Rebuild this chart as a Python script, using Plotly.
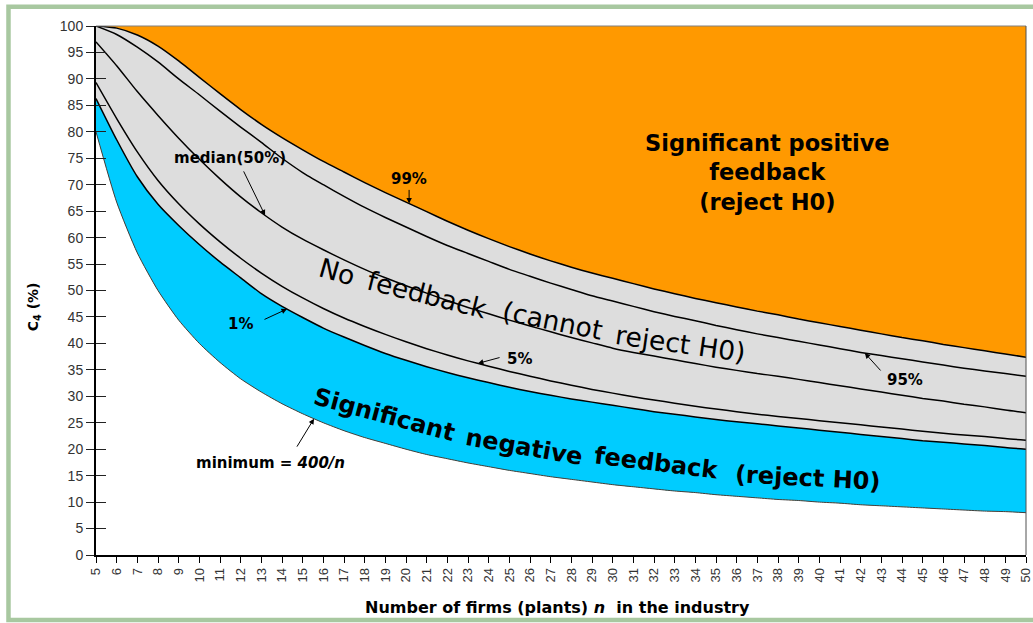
import numpy as np
import plotly.graph_objects as go

# ---------------- data ----------------
n = list(range(5, 51))

minimum = [80.0, 66.7, 57.1, 50.0, 44.4, 40.0, 36.4, 33.3, 30.8, 28.6,
           26.7, 25.0, 23.5, 22.2, 21.1, 20.0, 19.0, 18.2, 17.4, 16.7,
           16.0, 15.4, 14.8, 14.3, 13.8, 13.3, 12.9, 12.5, 12.1, 11.8,
           11.4, 11.1, 10.8, 10.5, 10.3, 10.0, 9.8, 9.5, 9.3, 9.1,
           8.9, 8.7, 8.5, 8.3, 8.2, 8.0]

p01 = [86.3, 78.5, 71.5, 66.3, 62.3, 58.7, 55.4, 52.4, 49.4, 47.0,
       44.9, 42.9, 41.2, 39.6, 38.1, 36.8, 35.6, 34.5, 33.5, 32.6,
       31.7, 30.9, 30.2, 29.5, 28.9, 28.3, 27.7, 27.1, 26.6, 26.1,
       25.6, 25.2, 24.8, 24.4, 24.0, 23.6, 23.2, 22.8, 22.4, 22.0,
       21.6, 21.3, 21.0, 20.7, 20.3, 20.0]

p05 = [89.3, 82.5, 76.2, 70.8, 66.4, 62.6, 59.2, 56.1, 53.3, 50.8,
       48.6, 46.6, 44.8, 43.2, 41.7, 40.3, 39.0, 37.8, 36.7, 35.7,
       34.7, 33.8, 32.9, 32.1, 31.3, 30.6, 29.9, 29.3, 28.7, 28.1,
       27.6, 27.1, 26.6, 26.2, 25.8, 25.4, 25.0, 24.6, 24.2, 23.8,
       23.4, 23.0, 22.7, 22.4, 22.0, 21.7]

p50 = [97.0, 92.5, 87.6, 83.1, 78.8, 74.8, 71.1, 67.7, 64.7, 62.0,
       59.7, 57.7, 55.8, 54.0, 52.4, 50.9, 49.5, 48.1, 46.8, 45.6,
       44.4, 43.3, 42.2, 41.1, 40.1, 39.1, 38.3, 37.6, 36.9, 36.2,
       35.5, 34.9, 34.3, 33.8, 33.2, 32.6, 32.0, 31.4, 30.8, 30.2,
       29.6, 29.1, 28.5, 28.0, 27.4, 26.9]

p95 = [100.0, 98.4, 96.0, 93.2, 90.0, 87.0, 83.9, 80.9, 78.0, 75.0,
       72.3, 70.0, 67.8, 65.7, 63.8, 62.0, 60.2, 58.5, 57.0, 55.5,
       54.0, 52.7, 51.4, 50.2, 49.0, 48.0, 47.0, 46.0, 45.1, 44.3,
       43.4, 42.6, 41.8, 41.1, 40.4, 39.7, 39.0, 38.3, 37.7, 37.1,
       36.5, 35.9, 35.3, 34.8, 34.3, 33.8]

p99 = [100.0, 99.6, 98.3, 96.2, 93.4, 90.3, 87.2, 84.2, 81.4, 78.9,
       76.6, 74.4, 72.4, 70.4, 68.5, 66.7, 64.9, 63.1, 61.4, 59.8,
       58.3, 56.9, 55.6, 54.4, 53.3, 52.3, 51.3, 50.3, 49.4, 48.5,
       47.7, 46.9, 46.1, 45.4, 44.6, 43.9, 43.2, 42.5, 41.8, 41.1,
       40.5, 39.8, 39.2, 38.6, 38.0, 37.4]

x_ticks = list(range(5, 51))
y_ticks = list(range(0, 101, 5))

# ---------------- styles ----------------
ORANGE = "#FF9900"
BLUE = "#00CCFF"
GRAY = "#DDDDDD"
SANS = "Liberation Sans, Arial, sans-serif"
WIDE = "DejaVu Sans, Verdana, sans-serif"
SPL = dict(shape="spline", smoothing=0.6)

fig = go.Figure()

# filled bands (plot background is the orange region)
fig.add_trace(go.Scatter(x=n, y=minimum, mode="lines", line=dict(width=0, **SPL),
                         fill="tozeroy", fillcolor="white", hoverinfo="skip"))
for series, color in [(p01, BLUE), (p05, GRAY), (p50, GRAY), (p95, GRAY), (p99, GRAY)]:
    fig.add_trace(go.Scatter(x=n, y=series, mode="lines", line=dict(width=0, **SPL),
                             fill="tonexty", fillcolor=color, hoverinfo="skip"))

# boundary lines on top
fig.add_trace(go.Scatter(x=n, y=minimum, mode="lines",
                         line=dict(color="#404040", width=1, **SPL), hoverinfo="skip"))
for series in [p01, p05, p50, p95, p99]:
    fig.add_trace(go.Scatter(x=n, y=series, mode="lines",
                             line=dict(color="black", width=1.5, **SPL), hoverinfo="skip"))

# invisible point so that the inside-tick axis is drawn
fig.add_trace(go.Scatter(x=[n[0]], y=[p99[0]], yaxis="y2", mode="markers",
                         marker=dict(opacity=0), hoverinfo="skip"))

annotations = []

# big region labels
annotations.append(dict(x=37.5, y=72.4, xref="x", yref="y", showarrow=False,
                        xanchor="center", yanchor="middle",
                        text="<b>Significant positive<br>feedback<br>(reject H0)</b>",
                        font=dict(family=WIDE, size=22.5, color="black"), align="center"))

no_fb = [("No", 16.66, 53.5, 16), ("feedback", 21.02, 49.3, 14),
         ("(cannot", 27.11, 44.4, 11.5), ("reject H0)", 33.26, 39.9, 8)]
for word, xx, yy, ang in no_fb:
    annotations.append(dict(x=xx, y=yy, xref="x", yref="y", showarrow=False, text=word,
                            xanchor="center", yanchor="middle",
                            textangle=ang, font=dict(family=WIDE, size=26.5, color="black")))

neg_fb = [("Significant", 18.98, 26.5, 15), ("negative", 25.71, 20.4, 10),
          ("feedback", 32.14, 17.4, 7), ("(reject H0)", 39.45, 14.6, 3)]
for word, xx, yy, ang in neg_fb:
    annotations.append(dict(x=xx, y=yy, xref="x", yref="y", showarrow=False, text="<b>" + word + "</b>",
                            xanchor="center", yanchor="middle",
                            textangle=ang, font=dict(family=WIDE, size=24, color="black")))

# small curve labels with arrows
labels = [
    # text, text x, text y, tail x, tail y, head x, series
    ("<b>99%</b>", 20.15, 71.0, 20.15, 69.3, 20.15, p99),
    ("<b>median(50%)</b>", 11.48, 75.0, 12.11, 72.8, 13.18, p50),
    ("<b>1%</b>", 11.97, 43.7, 13.08, 44.4, 14.24, p01),
    ("<b>5%</b>", 25.47, 37.0, 24.6, 37.4, 23.48, p05),
    ("<b>95%</b>", 44.14, 33.1, 43.03, 34.6, 42.2, p95),
    ("<b>minimum = <i>400/n</i></b>", 13.42, 17.4, 14.68, 20.2, 15.55, minimum),
]
for text, tx, ty, ax_, ay_, hx, series in labels:
    annotations.append(dict(x=tx, y=ty, xref="x", yref="y", showarrow=False, text=text,
                            xanchor="center", yanchor="middle",
                            font=dict(family=WIDE, size=15, color="black")))
    hy = float(np.interp(hx, n, series))
    annotations.append(dict(x=hx, y=hy, ax=ax_, ay=ay_, xref="x", yref="y", axref="x", ayref="y",
                            text="", showarrow=True, arrowhead=2, arrowsize=1.1, arrowwidth=1,
                            arrowcolor="black", standoff=0))

# axis titles
annotations.append(dict(x=-0.0667, y=0.47, xref="paper", yref="paper", showarrow=False,
                        xanchor="center", yanchor="middle",
                        text="<b>C<sub>4</sub> (%)</b>", textangle=-90,
                        font=dict(family=WIDE, size=14, color="black")))
annotations.append(dict(x=0.496, y=-0.0983, xref="paper", yref="paper", showarrow=False,
                        xanchor="center", yanchor="middle",
                        text="<b>Number of firms (plants) <i>n</i>  in the industry</b>",
                        font=dict(family=WIDE, size=16, color="black")))

shapes = [
    # thin grey frame on top and right of the plot area
    dict(type="line", xref="paper", yref="paper", x0=0, x1=1, y0=1, y1=1,
         line=dict(color="#808080", width=1), layer="above"),
    dict(type="line", xref="paper", yref="paper", x0=1, x1=1, y0=0, y1=1,
         line=dict(color="#505050", width=1), layer="above"),
    # green page frame (right side runs off the page)
    dict(type="rect", xref="paper", yref="paper", x0=-0.0941, x1=1.04, y0=-0.1229, y1=1.0365,
         line=dict(color="#A8C8A0", width=4.5), fillcolor="rgba(0,0,0,0)", layer="above"),
]

fig.update_layout(
    width=1033, height=623,
    margin=dict(l=96, r=7, t=26, b=68, autoexpand=False),
    paper_bgcolor="white", plot_bgcolor=ORANGE,
    showlegend=False,
    xaxis=dict(range=[5, 50], tickmode="array", tickvals=x_ticks, ticktext=[str(v) for v in x_ticks],
               tickangle=-90, ticks="outside", ticklen=6, tickwidth=1, tickcolor="black",
               ticklabeloverflow="allow", automargin=False,
               showline=True, linecolor="black", linewidth=1.5, showgrid=False, zeroline=False,
               tickfont=dict(family=SANS, size=13, color="#333333"), fixedrange=True),
    yaxis=dict(range=[0, 100], tickmode="array", tickvals=y_ticks, ticks="outside", ticklen=8,
               tickwidth=1, tickcolor="#222222", showline=True, linecolor="black", linewidth=2,
               showgrid=False, zeroline=False, automargin=False,
               tickfont=dict(family=SANS, size=14, color="#333333"), fixedrange=True),
    yaxis2=dict(range=[0, 100], overlaying="y", side="left", tickmode="array", tickvals=y_ticks,
                ticks="inside", ticklen=10, tickwidth=1, tickcolor="#222222", layer="above traces",
                showticklabels=False, showline=False, showgrid=False, zeroline=False,
                automargin=False, fixedrange=True),
    annotations=annotations,
    shapes=shapes,
)

fig.write_html("out.html", config={"displayModeBar": False},
               post_script="document.body.style.margin='0';")
